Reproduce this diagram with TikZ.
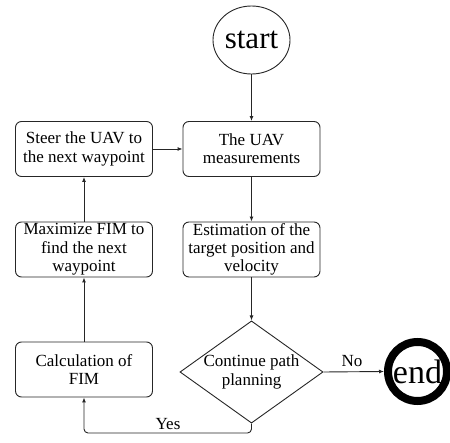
\documentclass[tikz,border=0pt]{standalone}
\usepackage{fontspec}
\setmainfont{Liberation Serif}
\usetikzlibrary{shapes.geometric,arrows.meta}
\begin{document}
\begin{tikzpicture}[x=1pt,y=-1pt,
  box/.style={draw=black!85,line width=0.9pt,rounded corners=6pt,minimum width=137pt,minimum height=55pt,inner sep=0pt,align=center,font=\fontsize{17}{18.3}\selectfont},
  flow/.style={draw=black!85,line width=0.9pt,-{Latex[length=5pt,width=4pt]}},
  lbl/.style={font=\fontsize{17}{18.3}\selectfont,inner sep=0pt}]
\useasboundingbox (0,0) rectangle (450,443);
\node[draw=black!85,line width=0.9pt,ellipse,minimum width=77pt,minimum height=68pt,inner sep=0pt,font=\fontsize{31}{34}\selectfont] (start) at (251.5,40) {start};
\node[box] (meas) at (251.5,149) {The UAV\\measurements};
\node[box] (steer) at (84,149) {Steer the UAV to\\the next waypoint};
\node[box] (est) at (251.5,249.5) {Estimation of the\\target position and\\velocity};
\node[box] (max) at (84,249.5) {Maximize FIM to\\find the next\\waypoint};
\node[box] (calc) at (84,369.5) {Calculation of\\FIM};
\node[draw=black!85,line width=0.9pt,diamond,minimum width=137pt,minimum height=98pt,inner sep=0pt,aspect=1.4,align=center,font=\fontsize{17}{18.3}\selectfont] (dec) at (251.5,372) {Continue path\\planning};
\node[draw=black,line width=8pt,circle,minimum size=59pt,inner sep=0pt,font=\fontsize{34}{36}\selectfont] (end) at (417.5,371.5) {end};
\coordinate (c1) at (251.5,433);
\coordinate (c2) at (84,433);
\draw[flow] (start) -- (meas);
\draw[flow] (meas) -- (est);
\draw[flow] (est) -- (dec);
\draw[flow] (steer) -- (meas);
\draw[flow] (max) -- (steer);
\draw[flow] (calc) -- (max);
\draw[flow] (dec.east) -- (end.west);
\draw[flow,rounded corners=4pt] (dec.south) -- (c1) -- (c2) -- (calc.south);
\node[lbl] (no) at (352,361) {No};
\node[lbl] (yes) at (168,424) {Yes};
\end{tikzpicture}
\end{document}
